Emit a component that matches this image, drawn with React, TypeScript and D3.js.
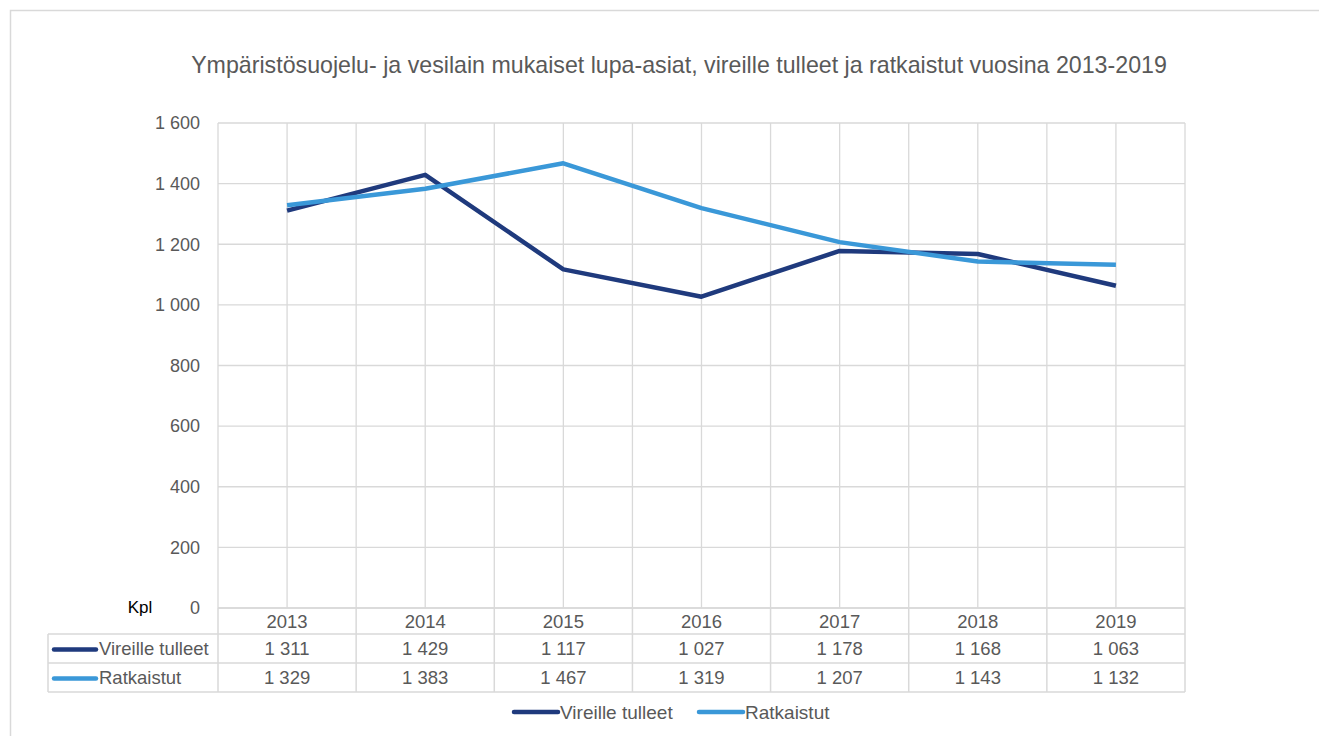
import React, { useRef, useEffect } from 'react';
import * as d3 from 'd3';

const years = ['2013', '2014', '2015', '2016', '2017', '2018', '2019'];
const vireilleTulleet = [1311, 1429, 1117, 1027, 1178, 1168, 1063];
const ratkaistut = [1329, 1383, 1467, 1319, 1207, 1143, 1132];
const yTicks = [0, 200, 400, 600, 800, 1000, 1200, 1400, 1600];

const seriesNames = ['Vireille tulleet', 'Ratkaistut'];
const seriesColors = ['#1f3a7d', '#3a98d8'];

const title = 'Ympäristösuojelu- ja vesilain mukaiset lupa-asiat, vireille tulleet ja ratkaistut vuosina 2013-2019';

const W = 1319;
const H = 736;
const FONT = '"Liberation Sans", Arial, sans-serif';
const TEXT = '#595959';
const GRID = '#d9d9d9';

const fiNum = d3.formatLocale({ decimal: ',', thousands: '\u00a0', grouping: [3], currency: ['', ' €'] }).format(',d');

const App = () => {
  const ref = useRef<SVGSVGElement | null>(null);

  useEffect(() => {
    if (!ref.current) return;
    const svg = d3.select(ref.current);
    svg.selectAll('*').remove();

    const left = 218, right = 1185, top = 123, bottom = 608;
    const rowH = [26, 29, 29];

    const x = d3.scaleBand<string>().domain(years).range([left, right]).padding(0);
    const bw = x.bandwidth();
    const cx = (d: string) => (x(d) as number) + bw / 2;
    const y = d3.scaleLinear().domain([0, 1600]).range([bottom, top]);

    // outer frame
    svg.append('rect')
      .attr('x', 10.5).attr('y', 10.5)
      .attr('width', W + 20).attr('height', H + 20)
      .attr('fill', 'white').attr('stroke', GRID).attr('stroke-width', 1.5);

    svg.append('text')
      .attr('x', 679).attr('y', 72.5)
      .attr('text-anchor', 'middle')
      .attr('font-family', FONT).attr('font-size', 23.2).attr('fill', TEXT)
      .text(title);

    // horizontal grid
    svg.append('g').selectAll('line').data(yTicks).enter().append('line')
      .attr('x1', left).attr('x2', right)
      .attr('y1', d => y(d)).attr('y2', d => y(d))
      .attr('stroke', GRID).attr('stroke-width', 1.3);

    // vertical grid (category borders + centers)
    const vx: number[] = [];
    years.forEach(d => { vx.push(x(d) as number); vx.push(cx(d)); });
    vx.push(right);
    svg.append('g').selectAll('line').data(vx).enter().append('line')
      .attr('x1', d => d).attr('x2', d => d)
      .attr('y1', top).attr('y2', bottom)
      .attr('stroke', GRID).attr('stroke-width', 1.3);

    // y tick labels
    svg.append('g').selectAll('text').data(yTicks).enter().append('text')
      .attr('x', 200).attr('y', d => y(d)).attr('dy', '0.35em')
      .attr('text-anchor', 'end')
      .attr('font-family', FONT).attr('font-size', 18).attr('fill', TEXT)
      .text(d => fiNum(d));

    svg.append('text')
      .attr('x', 140).attr('y', 607).attr('dy', '0.35em')
      .attr('text-anchor', 'middle')
      .attr('font-family', FONT).attr('font-size', 17).attr('fill', '#000')
      .text('Kpl');

    // lines
    const data = [vireilleTulleet, ratkaistut];
    const line = d3.line<number>()
      .x((_, i) => cx(years[i]))
      .y(d => y(d));
    data.forEach((s, i) => {
      svg.append('path')
        .attr('d', line(s) as string)
        .attr('fill', 'none')
        .attr('stroke', seriesColors[i])
        .attr('stroke-width', 4.5)
        .attr('stroke-linejoin', 'round');
    });

    // data table
    const tableLeft = 48;
    const r0 = bottom, r1 = r0 + rowH[0], r2 = r1 + rowH[1], r3 = r2 + rowH[2];
    const tg = svg.append('g');
    const hl = (x1: number, yy: number) => tg.append('line')
      .attr('x1', x1).attr('x2', right).attr('y1', yy).attr('y2', yy)
      .attr('stroke', GRID).attr('stroke-width', 1.5);
    hl(left, r0); hl(tableLeft, r1); hl(tableLeft, r2); hl(tableLeft, r3);
    tg.selectAll('line.col').data([...years.map(d => x(d) as number), right]).enter().append('line')
      .attr('class', 'col')
      .attr('x1', d => d).attr('x2', d => d)
      .attr('y1', r0).attr('y2', r3)
      .attr('stroke', GRID).attr('stroke-width', 1.5);
    tg.append('line')
      .attr('x1', tableLeft).attr('x2', tableLeft).attr('y1', r1).attr('y2', r3)
      .attr('stroke', GRID).attr('stroke-width', 1.5);

    tg.selectAll('text.yr').data(years).enter().append('text')
      .attr('x', d => cx(d)).attr('y', (r0 + r1) / 2).attr('dy', '0.36em')
      .attr('text-anchor', 'middle')
      .attr('font-family', FONT).attr('font-size', 18.5).attr('fill', TEXT)
      .text(d => d);

    const rowMid = [(r1 + r2) / 2, (r2 + r3) / 2];
    data.forEach((s, i) => {
      tg.append('line')
        .attr('x1', 54).attr('x2', 96)
        .attr('y1', rowMid[i] + 1).attr('y2', rowMid[i] + 1)
        .attr('stroke', seriesColors[i]).attr('stroke-width', 4.5).attr('stroke-linecap', 'round');
      tg.append('text')
        .attr('x', 99).attr('y', rowMid[i]).attr('dy', '0.36em')
        .attr('font-family', FONT).attr('font-size', 18.5).attr('fill', TEXT)
        .text(seriesNames[i]);
      tg.selectAll(`text.v${i}`).data(s).enter().append('text')
        .attr('x', (_, j) => cx(years[j])).attr('y', rowMid[i]).attr('dy', '0.36em')
        .attr('text-anchor', 'middle')
        .attr('font-family', FONT).attr('font-size', 18.5).attr('fill', TEXT)
        .text(d => fiNum(d));
    });

    // legend
    const legX = [514, 699];
    const legY = 712;
    seriesNames.forEach((n, i) => {
      svg.append('line')
        .attr('x1', legX[i]).attr('x2', legX[i] + 44)
        .attr('y1', legY).attr('y2', legY)
        .attr('stroke', seriesColors[i]).attr('stroke-width', 4.5).attr('stroke-linecap', 'round');
      svg.append('text')
        .attr('x', legX[i] + 46).attr('y', legY).attr('dy', '0.35em')
        .attr('font-family', FONT).attr('font-size', 19).attr('fill', TEXT)
        .text(n);
    });
  }, []);

  return (
    <svg ref={ref} width={W} height={H}
      style={{ position: 'absolute', left: 0, top: 0, background: 'white' }} />
  );
};

export default App;
